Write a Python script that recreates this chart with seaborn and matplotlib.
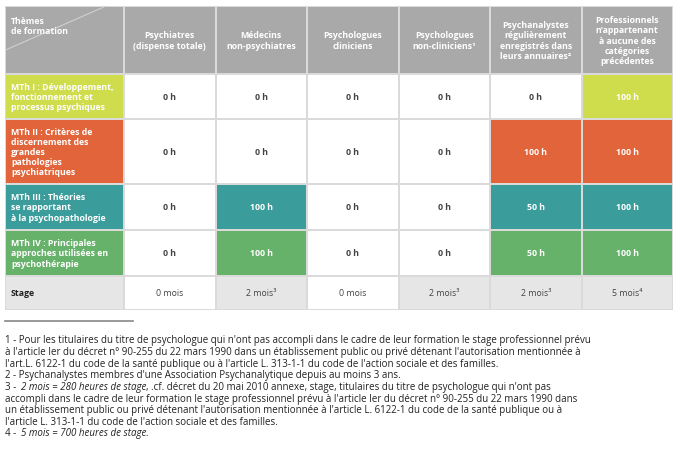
import numpy as np
import matplotlib
matplotlib.use("Agg")
import matplotlib.pyplot as plt
from matplotlib.colors import ListedColormap
import seaborn as sns

W, H = 680, 456
columns = ["Psychiatres\n(dispense totale)", "Médecins\nnon-psychiatres", "Psychologues\ncliniciens",
           "Psychologues\nnon-cliniciens¹", "Psychanalystes\nrégulièrement\nenregistrés dans\nleurs annuaires²",
           "Professionnels\nn'appartenant\nà aucune des\ncatégories\nprécédentes"]
row_labels = ["MTh I : Développement,\nfonctionnement et\nprocessus psychiques",
              "MTh II : Critères de\ndiscernement des\ngrandes\npathologies\npsychiatriques",
              "MTh III : Théories\nse rapportant\nà la psychopathologie",
              "MTh IV : Principales\napproches utilisées en\npsychothérapie",
              "Stage"]
hours = [[0, 0, 0, 0, 0, 100],
         [0, 0, 0, 0, 100, 100],
         [0, 100, 0, 0, 50, 100],
         [0, 100, 0, 0, 50, 100]]
stage = ["0 mois", "2 mois³", "0 mois", "2 mois³", "2 mois³", "5 mois⁴"]
# colour codes: 0 white, 1 lime, 2 orange, 3 teal, 4 green, 5 light grey, 6 header grey
row_codes = [1, 2, 3, 4, 5]
cell_codes = [[0, 0, 0, 0, 0, 1],
              [0, 0, 0, 0, 2, 2],
              [0, 3, 0, 0, 3, 3],
              [0, 4, 0, 0, 4, 4],
              [0, 5, 0, 5, 5, 5]]
palette = ["#ffffff", "#cfdc4c", "#e1643a", "#3a9d9b", "#67b26a", "#e6e6e6", "#a9a9a9"]
cmap = ListedColormap(palette)

FONT = ["Open Sans", "DejaVu Sans"]
plt.rcParams["font.family"] = FONT

fig = plt.figure(figsize=(W / 100, H / 100), dpi=100)

def ax_px(x0, y0, x1, y1):
    return fig.add_axes([x0 / W, 1 - y1 / H, (x1 - x0) / W, (y1 - y0) / H])

xl0, xd0, xd1 = 5, 124, 673
bands = [(7, 75), (75, 120), (120, 185), (185, 231), (231, 277), (277, 311)]
line_col = "#dadada"

for i, (y0, y1) in enumerate(bands):
    axl = ax_px(xl0, y0, xd0, y1)
    axd = ax_px(xd0, y0, xd1, y1)
    if i == 0:
        lcode = 6
        codes = [6] * 6
        texts = columns
        label = "Thèmes\nde formation"
    else:
        lcode = row_codes[i - 1]
        codes = cell_codes[i - 1]
        if i <= 4:
            texts = [f"{v} h" for v in hours[i - 1]]
        else:
            texts = stage
        label = row_labels[i - 1]
    sns.heatmap(np.array([[lcode]]), ax=axl, cmap=cmap, vmin=-0.5, vmax=6.5, cbar=False,
                linewidths=1.2, linecolor=line_col, xticklabels=False, yticklabels=False)
    sns.heatmap(np.array([codes]), ax=axd, cmap=cmap, vmin=-0.5, vmax=6.5, cbar=False,
                annot=np.array([texts]), fmt="", linewidths=1.2, linecolor=line_col,
                xticklabels=False, yticklabels=False,
                annot_kws=dict(fontsize=6.3, fontweight="bold", linespacing=1.15))
    for t, c in zip(axd.texts, codes):
        t.set_color("#444444" if c in (0, 5) else "white")
        if i == 5:
            t.set_fontweight("normal")
    lc = "#222222" if lcode == 5 else "white"
    yl = 0.72 if i == 0 else 0.5
    axl.text(0.05, yl, label, transform=axl.transAxes, ha="left", va="center",
             fontsize=6.3, fontweight="bold", color=lc, linespacing=1.15)
    if i == 0:
        axl.plot([0, 0.85], [0.35, 1.0], transform=axl.transAxes, color="#d0d0d0", lw=0.8)
    for a in (axl, axd):
        a.set_xlabel(""); a.set_ylabel("")

# footnote separator
fig.add_artist(plt.Line2D([5 / W, 133 / W], [1 - 322 / H] * 2, color="#888888", lw=1.2))

plain = [
    "1 - Pour les titulaires du titre de psychologue qui n'ont pas accompli dans le cadre de leur formation le stage professionnel prévu",
    "à l'article Ier du décret n° 90-255 du 22 mars 1990 dans un établissement public ou privé détenant l'autorisation mentionnée à",
    "l'art.L. 6122-1 du code de la santé publique ou à l'article L. 313-1-1 du code de l'action sociale et des familles.",
    "2 - Psychanalystes membres d'une Association Psychanalytique depuis au moins 3 ans.",
    None,
    "accompli dans le cadre de leur formation le stage professionnel prévu à l'article Ier du décret n° 90-255 du 22 mars 1990 dans",
    "un établissement public ou privé détenant l'autorisation mentionnée à l'article L. 6122-1 du code de la santé publique ou à",
    "l'article L. 313-1-1 du code de l'action sociale et des familles.",
    None,
]
fs = 7.0
y = 341
renderer = fig.canvas.get_renderer()
for k, line in enumerate(plain):
    yy = 1 - y / H
    if line is not None:
        fig.text(5 / W, yy, line, fontsize=fs, va="center", ha="left", color="#222222")
    else:
        if k == 4:
            parts = [("3 - ", "normal"), ("2 mois = 280 heures de stage", "italic"),
                     (", .cf. décret du 20 mai 2010 annexe, stage, titulaires du titre de psychologue qui n'ont pas", "normal")]
        else:
            parts = [("4 - ", "normal"), ("5 mois = 700 heures de stage.", "italic")]
        x = 5 / W
        for s, st in parts:
            t = fig.text(x, yy, s, fontsize=fs, va="center", ha="left", style=st, color="#222222")
            bb = t.get_window_extent(renderer)
            x = (bb.x1 + (2.0 if s.endswith(" ") else 0)) / W
    y += 11.6

fig.savefig("out.png", dpi=100, facecolor="white")
